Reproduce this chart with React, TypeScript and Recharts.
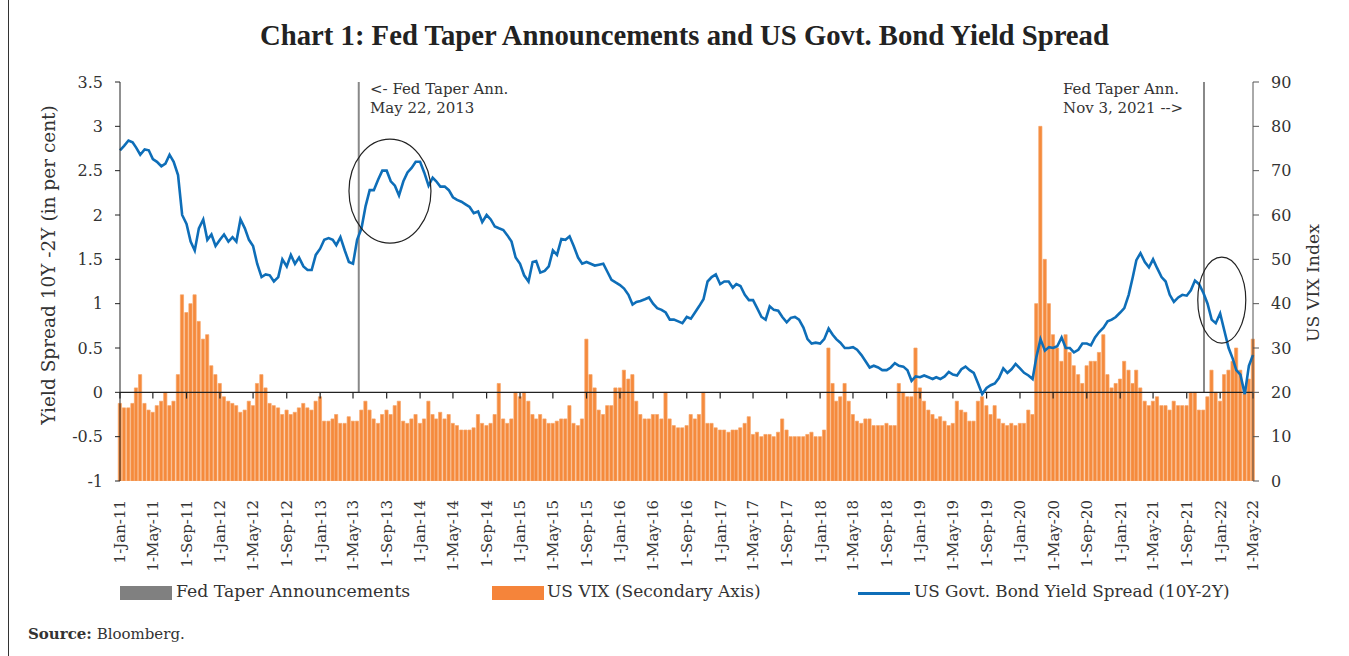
import React from "react";
import { ComposedChart, Bar, Line, XAxis, YAxis, ReferenceLine, ReferenceDot } from "recharts";

const FONT = "'DejaVu Serif', serif";
const TITLE_FONT = "'Liberation Serif', serif";

// half-monthly readings (1st and 16th of each month), 10Y-2Y spread in per cent
const spread2011 = [2.73, 2.78, 2.84, 2.82, 2.76, 2.68, 2.74, 2.73, 2.63, 2.6, 2.55, 2.58, 2.68, 2.6, 2.45, 2.0, 1.9, 1.7, 1.6, 1.85, 1.95, 1.72, 1.78, 1.65];
const spread2012 = [1.72, 1.78, 1.7, 1.75, 1.7, 1.95, 1.85, 1.72, 1.65, 1.45, 1.3, 1.33, 1.32, 1.25, 1.3, 1.5, 1.42, 1.55, 1.45, 1.52, 1.42, 1.38, 1.38, 1.55];
const spread2013 = [1.62, 1.72, 1.74, 1.72, 1.66, 1.75, 1.6, 1.47, 1.45, 1.72, 1.85, 2.1, 2.28, 2.28, 2.4, 2.5, 2.5, 2.38, 2.33, 2.22, 2.38, 2.48, 2.53, 2.6];
const spread2014 = [2.6, 2.48, 2.33, 2.42, 2.38, 2.32, 2.32, 2.28, 2.2, 2.17, 2.15, 2.12, 2.09, 2.02, 2.04, 1.92, 2.0, 1.95, 1.87, 1.85, 1.83, 1.77, 1.7, 1.52];
const spread2015 = [1.45, 1.32, 1.25, 1.47, 1.48, 1.35, 1.37, 1.42, 1.6, 1.55, 1.73, 1.72, 1.76, 1.65, 1.52, 1.45, 1.47, 1.45, 1.43, 1.44, 1.45, 1.36, 1.27, 1.24];
const spread2016 = [1.21, 1.17, 1.1, 0.99, 1.02, 1.03, 1.05, 1.07, 1.0, 0.95, 0.93, 0.9, 0.82, 0.82, 0.8, 0.78, 0.85, 0.83, 0.9, 0.97, 1.05, 1.25, 1.3, 1.33];
const spread2017 = [1.22, 1.25, 1.25, 1.18, 1.22, 1.2, 1.1, 1.04, 1.04, 0.95, 0.85, 0.82, 0.97, 0.93, 0.92, 0.85, 0.79, 0.84, 0.85, 0.82, 0.73, 0.6, 0.55, 0.56];
const spread2018 = [0.55, 0.6, 0.72, 0.65, 0.6, 0.56, 0.5, 0.5, 0.51, 0.48, 0.42, 0.35, 0.28, 0.3, 0.28, 0.25, 0.25, 0.28, 0.33, 0.3, 0.29, 0.25, 0.13, 0.18];
const spread2019 = [0.17, 0.19, 0.17, 0.15, 0.17, 0.15, 0.18, 0.23, 0.2, 0.19, 0.26, 0.29, 0.25, 0.22, 0.1, -0.02, 0.05, 0.08, 0.1, 0.16, 0.27, 0.22, 0.26, 0.32];
const spread2020 = [0.27, 0.22, 0.19, 0.15, 0.4, 0.6, 0.47, 0.51, 0.5, 0.52, 0.62, 0.5, 0.5, 0.45, 0.48, 0.55, 0.55, 0.53, 0.62, 0.68, 0.73, 0.8, 0.82, 0.85];
const spread2021 = [0.9, 0.95, 1.1, 1.3, 1.49, 1.57, 1.47, 1.41, 1.5, 1.4, 1.3, 1.25, 1.1, 1.02, 1.07, 1.1, 1.09, 1.15, 1.26, 1.22, 1.12, 1.0, 0.82, 0.78];
const spread2022 = [0.89, 0.7, 0.5, 0.38, 0.25, 0.2, -0.02, 0.3, 0.42];

// US VIX index, same dates
const vix2011 = [17.5, 16.5, 16.5, 17.5, 21, 24, 17.5, 16, 15.5, 17, 18, 20, 17, 18, 24, 42, 38, 40, 42, 36, 32, 33, 26, 24];
const vix2012 = [22, 19, 18, 17.5, 17, 15.5, 16, 18, 17, 22, 24, 21, 17.5, 17, 16.5, 15, 16, 15, 15.5, 16.5, 17.5, 16.5, 16, 18];
const vix2013 = [19, 13.5, 13.5, 14, 15, 13, 13, 14.5, 13.5, 13.5, 16, 18, 16, 14, 13, 15, 16, 15, 17, 18, 13.5, 13, 14, 15];
const vix2014 = [13, 14, 18, 15, 14, 15.5, 14, 15, 13, 12.5, 11.5, 11.5, 11.5, 12, 15, 13, 12.5, 13, 15, 22, 14, 13, 14, 20];
const vix2015 = [19, 20, 18, 15, 14, 15, 14, 13, 13, 13.5, 14, 14, 17, 13, 12.5, 14, 32, 24, 21, 16, 15, 17, 17, 21];
const vix2016 = [21, 25, 23, 24, 18, 15, 14, 14, 15, 15, 14, 20, 14, 12.5, 12, 12, 12.5, 15, 14, 15, 20, 13, 13, 12];
const vix2017 = [11.5, 11.5, 11, 11.5, 11.5, 12, 13, 14.5, 10.5, 11, 10, 10.5, 10.5, 10, 11, 14, 11.5, 10, 10, 10, 10, 10.5, 11, 10];
const vix2018 = [10, 11.5, 30, 22, 18, 19, 22, 18, 15, 13.5, 13, 14, 14, 12.5, 12.5, 12.5, 13, 12.5, 12.5, 22, 20, 19, 19, 30];
const vix2019 = [21, 18, 16, 15, 14, 14.5, 13.5, 12.5, 13, 18, 16, 15.5, 13.5, 13.5, 18, 19, 17, 15, 17, 14, 13, 12.5, 13, 12.5];
const vix2020 = [13, 13, 16, 15, 40, 80, 50, 40, 33, 30, 27, 33, 29, 26, 24, 22, 26, 27, 27, 29, 33, 24, 21, 22];
const vix2021 = [23, 27, 25, 22, 25, 21, 18, 17, 18, 19, 17, 17, 16, 18, 17, 17, 17, 20, 20, 16, 16, 19, 25, 20];
const vix2022 = [18, 24, 25, 27, 30, 25, 21, 23, 32];

const years = [2011, 2012, 2013, 2014, 2015, 2016, 2017, 2018, 2019, 2020, 2021, 2022];
const spreadByYear = [spread2011, spread2012, spread2013, spread2014, spread2015, spread2016, spread2017, spread2018, spread2019, spread2020, spread2021, spread2022];
const vixByYear = [vix2011, vix2012, vix2013, vix2014, vix2015, vix2016, vix2017, vix2018, vix2019, vix2020, vix2021, vix2022];

const taperDates = [Date.UTC(2013, 4, 22), Date.UTC(2021, 10, 3)];
const taperLevel = 3.5;

const leftTicks = [-1, -0.5, 0, 0.5, 1, 1.5, 2, 2.5, 3, 3.5];
const rightTicks = [0, 10, 20, 30, 40, 50, 60, 70, 80, 90];
const MONTHS = ["Jan", "Feb", "Mar", "Apr", "May", "Jun", "Jul", "Aug", "Sep", "Oct", "Nov", "Dec"];

const data: { date: number; spread: number; vix: number }[] = [];
years.forEach((yr, i) => {
  spreadByYear[i].forEach((s, j) => {
    data.push({ date: Date.UTC(yr, Math.floor(j / 2), j % 2 === 0 ? 1 : 16), spread: s, vix: vixByYear[i][j] });
  });
});

const xTicks: number[] = [];
years.forEach(yr => {
  [0, 4, 8].forEach(mo => {
    const t = Date.UTC(yr, mo, 1);
    if (t <= Date.UTC(2022, 4, 1)) xTicks.push(t);
  });
});

const fmtDate = (v: number) => {
  const d = new Date(v);
  return `1-${MONTHS[d.getUTCMonth()]}-${String(d.getUTCFullYear()).slice(2)}`;
};

const DateTick = (props: any) => {
  const { x, y, payload } = props;
  const ty = y + 11;
  return (
    <text x={x} y={ty} transform={`rotate(-90 ${x} ${ty})`} textAnchor="end" dy="0.36em"
      fontFamily={FONT} fontSize={15} fill="#333">
      {fmtDate(payload.value)}
    </text>
  );
};

const Ellipse = (rx: number, ry: number) => (p: any) => (
  <ellipse cx={p.cx} cy={p.cy} rx={rx} ry={ry} fill="none" stroke="#222" strokeWidth={1.2} />
);

const tickStyle = { fontFamily: FONT, fontSize: 16, fill: "#333" };
const txt: React.CSSProperties = { position: "absolute", fontFamily: FONT, color: "#333", whiteSpace: "nowrap" };

export default function App() {
  return (
    <div style={{ position: "absolute", left: 0, top: 0, width: 1349, height: 656, background: "#fff", overflow: "hidden" }}>
      <div style={{ position: "absolute", left: 8, top: 0, width: 0, height: 656, borderLeft: "1px solid #333" }} />
      <div style={{ position: "absolute", left: 10, top: 19, width: 1349, textAlign: "center", fontFamily: TITLE_FONT, fontWeight: "bold", fontSize: 28.7, color: "#222" }}>
        Chart 1: Fed Taper Announcements and US Govt. Bond Yield Spread
      </div>

      <div style={{ position: "absolute", left: 0, top: 0 }}>
        <ComposedChart width={1349} height={580} data={data} margin={{ top: 82, right: 36, left: 60, bottom: 4 }}>
          <XAxis dataKey="date" type="number" scale="linear" domain={[xTicks[0], xTicks[xTicks.length - 1]]}
            ticks={xTicks} interval={0} axisLine={false} tickLine={false} height={95} tick={<DateTick />} />
          <YAxis yAxisId="left" domain={[-1, 3.5]} ticks={leftTicks} width={60} tickSize={5} tickMargin={12}
            axisLine={{ stroke: "#222" }} tickLine={{ stroke: "#222" }} tick={tickStyle} allowDataOverflow />
          <YAxis yAxisId="right" orientation="right" domain={[0, 90]} ticks={rightTicks} width={60} tickSize={6} tickMargin={12}
            axisLine={{ stroke: "#555" }} tickLine={{ stroke: "#555" }} tick={tickStyle} allowDataOverflow />
          <Bar yAxisId="right" dataKey="vix" fill="#F58A3C" stroke="#F7A466" strokeWidth={0.7} barSize={4} isAnimationActive={false} />
          {taperDates.map(d => (
            <ReferenceLine key={d} yAxisId="left" segment={[{ x: d, y: 0 }, { x: d, y: taperLevel }]} stroke="#888" strokeWidth={2} />
          ))}
          <ReferenceLine yAxisId="left" y={0} stroke="#222" strokeWidth={1.3} />
          {xTicks.map(t => (
            <ReferenceLine key={"t" + t} yAxisId="left" segment={[{ x: t, y: 0 }, { x: t, y: -0.07 }]} stroke="#222" strokeWidth={1.2} />
          ))}
          <Line yAxisId="left" type="linear" dataKey="spread" stroke="#0E6EB8" strokeWidth={2.6} dot={false} isAnimationActive={false} />
          <ReferenceDot yAxisId="left" x={Date.UTC(2013, 8, 13)} y={2.27} r={1} shape={Ellipse(41, 52)} />
          <ReferenceDot yAxisId="left" x={Date.UTC(2022, 0, 7)} y={1.04} r={1} shape={Ellipse(24, 43)} />
        </ComposedChart>
      </div>

      <div style={{ ...txt, left: 370, top: 80, fontSize: 15, lineHeight: "19px" }}>
        &lt;- Fed Taper Ann.<br />May 22, 2013
      </div>
      <div style={{ ...txt, left: 1063, top: 80, fontSize: 15, lineHeight: "19px" }}>
        Fed Taper Ann.<br />Nov 3, 2021 --&gt;
      </div>

      <div style={{ ...txt, left: 48, top: 265, fontSize: 18.5, transform: "translate(-50%, -50%) rotate(-90deg)" }}>
        Yield Spread 10Y -2Y (in per cent)
      </div>
      <div style={{ ...txt, left: 1313, top: 283, fontSize: 17.3, transform: "translate(-50%, -50%) rotate(-90deg)" }}>
        US VIX Index
      </div>

      <div style={{ position: "absolute", left: 120, top: 586, width: 52, height: 14, background: "#808080" }} />
      <div style={{ ...txt, left: 176, top: 581, fontSize: 17.3 }}>Fed Taper Announcements</div>
      <div style={{ position: "absolute", left: 492, top: 586, width: 52, height: 14, background: "#F5843A" }} />
      <div style={{ ...txt, left: 547, top: 581, fontSize: 17 }}>US VIX (Secondary Axis)</div>
      <div style={{ position: "absolute", left: 858, top: 592, width: 52, height: 3, background: "#0E6EB8" }} />
      <div style={{ ...txt, left: 914, top: 581, fontSize: 16.8 }}>US Govt. Bond Yield Spread (10Y-2Y)</div>

      <div style={{ ...txt, left: 28, top: 625, fontSize: 15 }}>
        <b>Source:</b> Bloomberg.
      </div>
    </div>
  );
}
